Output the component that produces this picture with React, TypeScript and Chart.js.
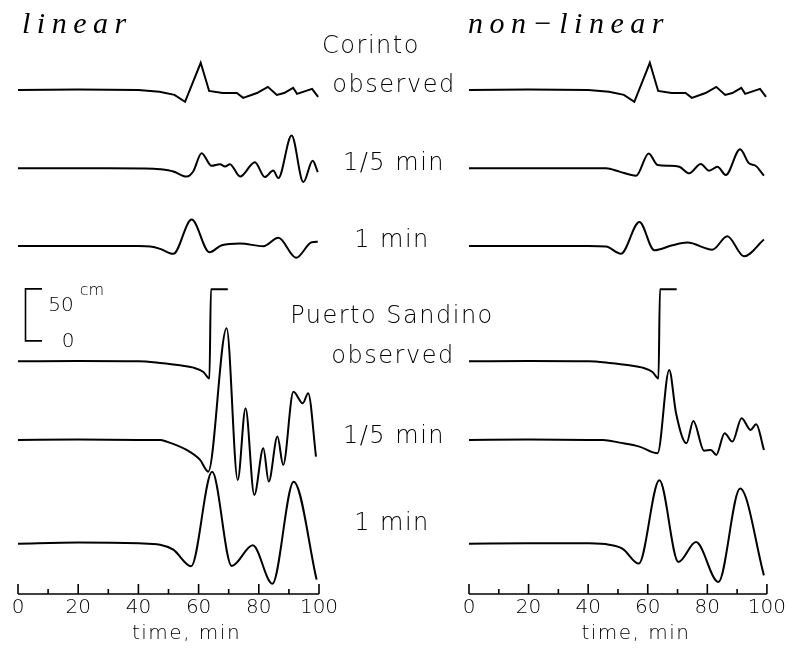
import React, { useEffect, useRef } from 'react';
import { Chart, registerables } from 'chart.js';

Chart.register(...registerables);

// ---------- data (time in minutes, amplitude in cm relative to each trace's baseline) ----------
const X_MIN = 0;
const X_MAX = 100;
const Y_MAX = 571;

// vertical offsets (cm) of the six stacked traces, top to bottom
const TRACE_OFFSETS = [484.6, 409.2, 334.5, 223.7, 148.1, 48.4];

// Corinto, observed (same in both panels)
const T_COR_OBS = [0, 20, 40, 47, 52, 55.5, 60.7, 63.5, 68, 72.7, 74.8, 79.4, 83, 86, 88.4, 91.4, 92.7, 97.7, 99.7];
const V_COR_OBS = [0, 0.3, 0, -1.9, -4.8, -11.5, 26, -1, -3, -3, -7.7, -3, 2.9, -4.8, -3, 2, -3.8, 1, -6.7];

// Corinto, 1/5 min, linear
const T_COR_5_LIN = [0, 30, 45, 47.2, 51.6, 56, 58.2, 61, 64.3, 67.1, 68.8, 70.4, 73.8, 78.7, 82, 84.8, 86.5, 90.9, 94.8, 97.9, 99.6];
const V_COR_5_LIN = [0, 0, -0.3, -0.8, -3, -7.9, -3, 14.6, 2.4, 4, 1.7, 4, -7.9, 5.9, -8.4, -2.1, -9.4, 31.5, -13.2, 7.2, -3.7];

// Corinto, 1 min, linear
const T_COR_1_LIN = [0, 20, 40, 44, 47.2, 51.6, 57.7, 63.6, 67.7, 73.8, 81.5, 86.5, 92.4, 97.6, 99.6];
const V_COR_1_LIN = [0, 0, 0, -0.5, -2.7, -7.5, 25.5, -6, 0.8, 2.4, -0.2, 7.9, -11.3, 3.7, 4.1];

// Puerto Sandino, observed (same in both panels)
const T_PS_OBS = [0, 20, 40, 47.2, 53.8, 58.3, 61.6, 63.6, 64.1, 69.7];
const V_PS_OBS = [0, 0.3, 0, -1.6, -3.8, -6.1, -10.3, -16.6, 69.2, 69.2];

// Puerto Sandino, 1/5 min, linear
const T_PS_5_LIN = [0, 20, 40, 47.2, 49.4, 56, 60.5, 63.2, 69.3, 73, 75.6, 78.5, 81.5, 83.3, 86.2, 88.1, 91.5, 94.6, 96.4, 99];
const V_PS_5_LIN = [0, 0.5, 0, 0, -1.6, -9.6, -19.2, -30.5, 107.4, -38.5, 30.5, -52.9, -8, -40, 3.2, -24, 46.4, 35.3, 44.9, -16];

// Puerto Sandino, 1 min, linear
const T_PS_1_LIN = [0, 20, 40, 47.2, 51.6, 57.5, 64.5, 71, 78, 84.5, 91.6, 99.2];
const V_PS_1_LIN = [0, 1, 0.3, -1, -5.8, -21.8, 69, -21.5, -1.6, -38.5, 59.6, -34.6];

// Corinto, 1/5 min, non-linear
const T_COR_5_NL = [0, 20, 40, 46, 50.5, 56.1, 60.3, 63.3, 67.2, 70.6, 73.9, 77.8, 80.6, 83.4, 86.2, 91, 94, 96.2, 99];
const V_COR_5_NL = [0, 0, 0, 0, -3.2, -7.1, 14.3, 3.2, 2.5, 1.5, -4.8, 4.1, -2.3, 1.5, -6.4, 18.3, 4.8, 2.5, -7.1];

// Corinto, 1 min, non-linear
const T_COR_1_NL = [0, 20, 40, 46, 51, 57.2, 62.2, 68.3, 73.3, 81.7, 86.7, 92.3, 99];
const V_COR_1_NL = [0, 0, 0, -0.5, -7.4, 23.1, -4.1, 0.7, 3.3, -3.5, 9.3, -9.9, 6.2];

// Puerto Sandino, 1/5 min, non-linear
const T_PS_5_NL = [0, 20, 40, 45, 50.5, 57.2, 63.3, 67.2, 69.5, 73, 75.3, 78.9, 81.2, 83, 85.8, 88.4, 91.5, 94.5, 96.4, 99];
const V_PS_5_NL = [0, 0.3, 0, 0, -2.6, -6.4, -12.8, 67.3, 25.7, -3.2, 18.3, -10.3, -9.6, -14.4, 6.4, -1.6, 20.9, 9.6, 15.1, -9.6];

// Puerto Sandino, 1 min, non-linear
const T_PS_1_NL = [0, 20, 40, 47, 51.6, 57, 63.9, 70.3, 76.2, 83.7, 91, 99];
const V_PS_1_NL = [0, 0.5, 0.3, -1, -5, -19.2, 60.9, -17.6, 1.5, -36.9, 52.9, -30.5];

const PANEL_TITLES = ['linear', 'non\u2212linear'];
const ROW_LABELS = ['Corinto', 'observed', '1/5 min', '1 min', 'Puerto Sandino', 'observed', '1/5 min', '1 min'];
const X_TITLE = 'time, min';
const SCALE_BAR_CM = 50;
const SCALE_BAR_BASE = 243.3;

// ---------- styling / layout ----------
const W = 788;
const H = 648;
const SANS = '"DejaVu Sans", "Noto Sans", sans-serif';
const SERIF = '"Liberation Serif", "DejaVu Serif", serif';
const LABEL_POS: [number, number][] = [
  [371, 53], [394, 92], [394, 170], [392, 247], [392, 323], [393, 363], [394, 443], [392, 530],
];

function toPoints(t: number[], v: number[], offset: number) {
  return t.map((x, i) => ({ x, y: offset + v[i] }));
}

function makeDataset(t: number[], v: number[], offset: number, smooth: boolean) {
  return {
    data: toPoints(t, v, offset),
    borderColor: '#000',
    borderWidth: 2,
    pointRadius: 0,
    fill: false,
    tension: 0,
    cubicInterpolationMode: smooth ? 'monotone' : 'default',
  };
}

function drawAxis(chart: any, ctx: CanvasRenderingContext2D) {
  const xs = chart.scales.x;
  const y0 = chart.chartArea.bottom;
  ctx.save();
  ctx.strokeStyle = '#000';
  ctx.lineWidth = 1.6;
  ctx.beginPath();
  ctx.moveTo(xs.getPixelForValue(X_MIN), y0);
  ctx.lineTo(xs.getPixelForValue(X_MAX), y0);
  xs.ticks.forEach((tk: any) => {
    const x = xs.getPixelForValue(tk.value);
    const len = tk.value % 20 === 0 ? 10 : 5;
    ctx.moveTo(x, y0);
    ctx.lineTo(x, y0 - len);
  });
  ctx.stroke();
  ctx.fillStyle = '#000';
  ctx.font = `300 20px ${SANS}`;
  (ctx as any).letterSpacing = '1.5px';
  ctx.textAlign = 'center';
  ctx.textBaseline = 'alphabetic';
  const cx = (xs.getPixelForValue(X_MIN) + xs.getPixelForValue(X_MAX)) / 2 + 18;
  ctx.fillText(X_TITLE, cx, 639);
  ctx.restore();
}

function drawPanelTitle(ctx: CanvasRenderingContext2D, text: string, x: number) {
  ctx.save();
  ctx.fillStyle = '#000';
  ctx.font = `italic 30px ${SERIF}`;
  ctx.textAlign = 'left';
  ctx.textBaseline = 'alphabetic';
  (ctx as any).letterSpacing = '6.5px';
  ctx.fillText(text, x, 33);
  ctx.restore();
}

const leftDecor = {
  id: 'leftDecor',
  afterDraw(chart: any) {
    const ctx: CanvasRenderingContext2D = chart.ctx;
    drawAxis(chart, ctx);
    drawPanelTitle(ctx, PANEL_TITLES[0], 22);
    // row labels
    ctx.save();
    ctx.fillStyle = '#000';
    ctx.font = `300 24px ${SANS}`;
    (ctx as any).letterSpacing = '1.5px';
    ctx.textAlign = 'center';
    ctx.textBaseline = 'alphabetic';
    ROW_LABELS.forEach((lab, i) => {
      ctx.fillText(lab, LABEL_POS[i][0], LABEL_POS[i][1]);
    });
    ctx.restore();
    // scale bar
    const ys = chart.scales.y;
    const yb = ys.getPixelForValue(SCALE_BAR_BASE);
    const yt = ys.getPixelForValue(SCALE_BAR_BASE + SCALE_BAR_CM);
    ctx.save();
    ctx.strokeStyle = '#000';
    ctx.lineWidth = 1.6;
    ctx.beginPath();
    ctx.moveTo(42, yt);
    ctx.lineTo(25.5, yt);
    ctx.lineTo(25.5, yb);
    ctx.lineTo(42, yb);
    ctx.stroke();
    ctx.fillStyle = '#000';
    ctx.textAlign = 'center';
    ctx.textBaseline = 'middle';
    ctx.font = `300 20px ${SANS}`;
    ctx.fillText(String(SCALE_BAR_CM), 61, yt + 17);
    ctx.fillText('0', 68, yb + 1);
    ctx.font = `300 16px ${SANS}`;
    ctx.fillText('cm', 92, yt + 2);
    ctx.restore();
  },
};

const rightDecor = {
  id: 'rightDecor',
  afterDraw(chart: any) {
    const ctx: CanvasRenderingContext2D = chart.ctx;
    drawAxis(chart, ctx);
    drawPanelTitle(ctx, PANEL_TITLES[1], 468);
  },
};

function makeConfig(side: 'left' | 'right'): any {
  const linear = side === 'left';
  const series: [number[], number[], boolean][] = linear
    ? [
        [T_COR_OBS, V_COR_OBS, false],
        [T_COR_5_LIN, V_COR_5_LIN, true],
        [T_COR_1_LIN, V_COR_1_LIN, true],
        [T_PS_OBS, V_PS_OBS, true],
        [T_PS_5_LIN, V_PS_5_LIN, true],
        [T_PS_1_LIN, V_PS_1_LIN, true],
      ]
    : [
        [T_COR_OBS, V_COR_OBS, false],
        [T_COR_5_NL, V_COR_5_NL, true],
        [T_COR_1_NL, V_COR_1_NL, true],
        [T_PS_OBS, V_PS_OBS, true],
        [T_PS_5_NL, V_PS_5_NL, true],
        [T_PS_1_NL, V_PS_1_NL, true],
      ];
  return {
    type: 'line',
    data: {
      datasets: series.map(([t, v, s], i) => makeDataset(t, v, TRACE_OFFSETS[i], s)),
    },
    options: {
      animation: false,
      responsive: false,
      devicePixelRatio: 1,
      events: [],
      layout: {
        padding: linear
          ? { left: 18, right: W - 319, top: 0, bottom: 0 }
          : { left: 469, right: W - 768, top: 0, bottom: 0 },
      },
      plugins: { legend: { display: false }, tooltip: { enabled: false }, title: { display: false } },
      scales: {
        x: {
          type: 'linear',
          min: X_MIN,
          max: X_MAX,
          afterFit: (s: any) => {
            s.height = 54;
          },
          grid: { display: false, drawTicks: false },
          border: { display: false },
          ticks: {
            stepSize: 10,
            autoSkip: false,
            maxRotation: 0,
            padding: 2,
            color: '#000',
            font: { family: SANS, size: 20, weight: '300' },
            callback: (v: any) => (Number(v) % 20 === 0 ? String(v) : ''),
          },
        },
        y: { display: false, min: 0, max: Y_MAX },
      },
    },
    plugins: [linear ? leftDecor : rightDecor],
  };
}

export default function App() {
  const leftRef = useRef<HTMLCanvasElement>(null);
  const rightRef = useRef<HTMLCanvasElement>(null);
  useEffect(() => {
    const c1 = new Chart(leftRef.current as HTMLCanvasElement, makeConfig('left'));
    const c2 = new Chart(rightRef.current as HTMLCanvasElement, makeConfig('right'));
    return () => {
      c1.destroy();
      c2.destroy();
    };
  }, []);
  return (
    <div style={{ position: 'fixed', left: 0, top: 0, width: W, height: H, background: '#fff' }}>
      <canvas ref={leftRef} width={W} height={H} style={{ position: 'absolute', left: 0, top: 0 }} />
      <canvas ref={rightRef} width={W} height={H} style={{ position: 'absolute', left: 0, top: 0 }} />
    </div>
  );
}
